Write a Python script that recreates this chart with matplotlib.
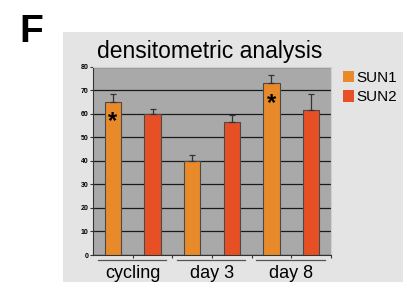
import numpy as np
import matplotlib
matplotlib.use('Agg')
import matplotlib.pyplot as plt
from matplotlib.patches import Rectangle
import matplotlib.transforms as mtransforms

plt.rcParams['font.family'] = ['Liberation Sans', 'DejaVu Sans']

groups = ['cycling', 'day 3', 'day 8']
sun1 = [65, 40, 73]
sun2 = [60, 56.6, 61.7]
sun1_err = [3.2, 2.3, 3.4]
sun2_err = [2.2, 2.7, 6.8]
starred = [0, 2]          # SUN1 bars marked with *
yticks = [0, 10, 20, 30, 40, 50, 60, 70, 80]

c_sun1 = '#e8892a'
c_sun2 = '#e65024'

fig = plt.figure(figsize=(4.03, 2.82), dpi=100)
fig.patch.set_facecolor('white')

# light gray panel behind the chart
fig.add_artist(Rectangle((0.156, 0), 0.844, 0.8865, transform=fig.transFigure,
                         facecolor='#e4e4e4', edgecolor='none', zorder=-10))

ax = fig.add_axes([0.2308, 0.0957, 0.5905, 0.6678])
ax.set_zorder(1)
ax.set_facecolor('#a9a9a9')

x = np.arange(len(groups))
w = 0.21
b1 = ax.bar(x + 0.25, sun1, w, color=c_sun1, edgecolor='#4a4a4a', linewidth=0.8,
            label='SUN1', zorder=3)
b2 = ax.bar(x + 0.75, sun2, w, color=c_sun2, edgecolor='#4a4a4a', linewidth=0.8,
            label='SUN2', zorder=3)
ax.errorbar(x + 0.25, sun1, yerr=[np.zeros(3), sun1_err], fmt='none', ecolor='#333333',
            elinewidth=0.9, capsize=2, capthick=0.9, zorder=4)
ax.errorbar(x + 0.75, sun2, yerr=[np.zeros(3), sun2_err], fmt='none', ecolor='#333333',
            elinewidth=0.9, capsize=2, capthick=0.9, zorder=4)

for i in starred:
    ax.text(x[i] + 0.25, sun1[i] - 8.5, '*', ha='center', va='center',
            fontsize=17, fontweight='bold', color='black', zorder=5)

ax.set_xlim(0, 3)
ax.set_ylim(0, 80)
ax.set_yticks(yticks)
ax.set_yticklabels([str(t) for t in yticks], fontsize=5, fontweight='bold')
ax.yaxis.grid(True, color='#1a1a1a', linewidth=0.9, zorder=1)
ax.set_axisbelow(True)

ax.set_xticks([0.5, 1, 1.5, 2, 2.5, 3])
ax.set_xticklabels([])
ax.tick_params(axis='x', length=2, width=0.8, color='#333333')
ax.tick_params(axis='y', length=2, width=0.8, color='#333333', pad=1.5)

for s in ['top', 'right']:
    ax.spines[s].set_color('#d0d0d0')
    ax.spines[s].set_linewidth(0.8)
ax.spines['left'].set_color('#333333')
ax.spines['bottom'].set_color('#333333')

# group underlines and labels below the axis
trans = mtransforms.blended_transform_factory(ax.transData, ax.transAxes)
for i, g in enumerate(groups):
    ax.plot([i + 0.06, i + 0.92], [-0.025, -0.025], color='#555555', linewidth=0.9,
            transform=trans, clip_on=False)
    ax.text(i + 0.5, -0.055, g, ha='center', va='top', fontsize=13, transform=trans)

fig.text(0.521, 0.794, 'densitometric analysis', ha='center', va='baseline', fontsize=16.5)
fig.text(0.048, 0.85, 'F', ha='left', va='baseline', fontsize=28, fontweight='bold')

leg = fig.legend(handles=[b1, b2], labels=['SUN1', 'SUN2'], loc='upper left',
                 bbox_to_anchor=(0.835, 0.77), frameon=False, fontsize=11,
                 handlelength=0.75, handleheight=0.75, handletextpad=0.15,
                 labelspacing=0.35, borderaxespad=0)
for h in leg.legend_handles:
    h.set_edgecolor('none')

fig.savefig('out.png', dpi=100)
